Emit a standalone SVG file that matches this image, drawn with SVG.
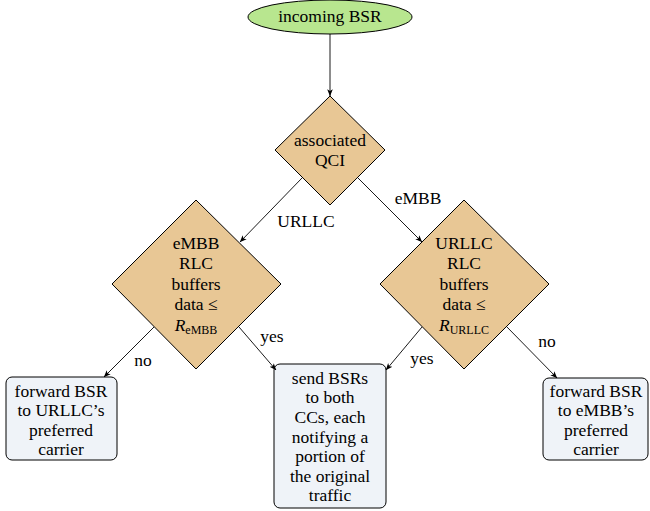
<svg xmlns="http://www.w3.org/2000/svg" width="650" height="511" viewBox="0 0 650 511">
<defs>
<marker id="ah" viewBox="0 0 10 10" refX="9.5" refY="5" markerWidth="7" markerHeight="7" orient="auto" markerUnits="userSpaceOnUse">
<path d="M0,1 L10,5 L0,9 L2.5,5 Z" fill="#000"/>
</marker>
<style>
text{font-family:'Liberation Serif','DejaVu Serif',serif;font-size:17.5px;fill:#000;text-anchor:middle}
.st{font-size:12px}
.dec{fill:#e8c795;stroke:#000;stroke-width:1}
.box{fill:#eff3f8;stroke:#000;stroke-width:1}
.start{fill:#b8e68f;stroke:#000;stroke-width:1}
.c line{stroke:#000;stroke-width:0.9;marker-end:url(#ah)}
</style>
</defs>
<rect width="650" height="511" fill="#fff"/>
<g id="start">
<ellipse class="start" cx="330" cy="17" rx="82" ry="17"/>
<text x="330" y="22">incoming BSR</text>
</g>
<g id="qci">
<polygon class="dec" points="330,96 385,150 330,205 275,150"/>
<text x="330" y="146">associated</text>
<text x="330" y="166">QCI</text>
</g>
<g id="embbcheck">
<polygon class="dec" points="196,200 281,284 196,369 112,284"/>
<text x="196" y="249">eMBB</text>
<text x="196" y="269">RLC</text>
<text x="196" y="290">buffers</text>
<text x="196" y="310">data ≤</text>
<text x="196" y="331"><tspan font-style="italic">R</tspan><tspan class="st" dy="3">eMBB</tspan></text>
</g>
<g id="urllccheck">
<polygon class="dec" points="464,200 549,284 464,369 380,284"/>
<text x="464" y="249">URLLC</text>
<text x="464" y="269">RLC</text>
<text x="464" y="290">buffers</text>
<text x="464" y="310">data ≤</text>
<text x="464" y="331"><tspan font-style="italic">R</tspan><tspan class="st" dy="3">URLLC</tspan></text>
</g>
<g id="fwdurllc">
<rect class="box" x="6" y="377" width="111" height="83" rx="6"/>
<text x="61" y="397">forward BSR</text>
<text x="61" y="416">to URLLC’s</text>
<text x="61" y="436">preferred</text>
<text x="61" y="455">carrier</text>
</g>
<g id="both">
<rect class="box" x="274" y="364" width="112" height="144" rx="6"/>
<text x="330" y="384">send BSRs</text>
<text x="330" y="403">to both</text>
<text x="330" y="423">CCs, each</text>
<text x="330" y="443">notifying a</text>
<text x="330" y="462">portion of</text>
<text x="330" y="482">the original</text>
<text x="330" y="501">traffic</text>
</g>
<g id="fwdembb">
<rect class="box" x="543" y="378" width="105" height="82" rx="6"/>
<text x="596" y="397">forward BSR</text>
<text x="596" y="416">to eMBB’s</text>
<text x="596" y="436">preferred</text>
<text x="596" y="455">carrier</text>
</g>
<g class="c" id="connectors">
<line x1="330" y1="34" x2="330" y2="96"/>
<line x1="302" y1="178" x2="240" y2="242"/>
<line x1="358" y1="178" x2="422" y2="242"/>
<line x1="154" y1="327" x2="104" y2="377"/>
<line x1="239" y1="327" x2="276" y2="370"/>
<line x1="422" y1="327" x2="386" y2="370"/>
<line x1="506" y1="326" x2="557" y2="378"/>
<text x="306" y="227">URLLC</text>
<text x="418" y="204">eMBB</text>
<text x="143" y="366">no</text>
<text x="272" y="342">yes</text>
<text x="422" y="364">yes</text>
<text x="547" y="347">no</text>
</g>
</svg>
